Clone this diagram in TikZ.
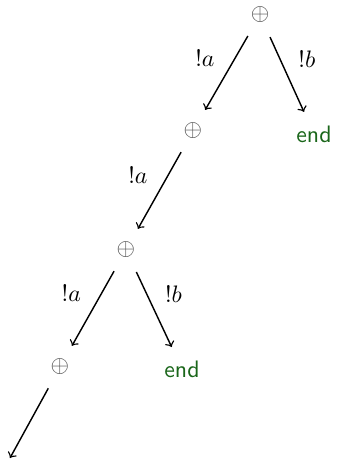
\documentclass[tikz,border=0pt]{standalone}
\usepackage{amsmath}
\definecolor{ink}{HTML}{000000}
\definecolor{muted}{HTML}{4D4D4D}
\definecolor{endgreen}{HTML}{1A661A}
\tikzset{
  every picture/.style = {line join=round},
  choice/.style        = {circle, inner sep=0pt, minimum size=20pt, text=muted},
  stop/.style          = {circle, inner sep=0pt, minimum size=20pt, text=endgreen, font=\sffamily},
  move/.style          = {->, semithick, ink},
  lbl/.style           = {text=ink},
}

\begin{document}
\begin{tikzpicture}[x=0.42pt, y=-0.42pt]
  \useasboundingbox (0,0) rectangle (336,462);

  % the choices, one level down each time
  \node[choice] (c1) at (260,15)  {$\oplus$};
  \node[choice] (c2) at (193,131) {$\oplus$};
  \node[choice] (c3) at (126,250) {$\oplus$};
  \node[choice] (c4) at (60,367)  {$\oplus$};
  \node[stop]   (e1) at (314,134) {end};
  \node[stop]   (e2) at (182,369) {end};
  \coordinate   (tail) at (10,458);   % the branch runs on past the frame

  \draw[move] (c1) -- node[lbl, left=5pt, pos=.3]  {$!a$} (c2);
  \draw[move] (c1) -- node[lbl, right=4pt, pos=.3] {$!b$} (e1);
  \draw[move] (c2) -- node[lbl, left=5pt, pos=.3]  {$!a$} (c3);
  \draw[move] (c3) -- node[lbl, left=5pt, pos=.3]  {$!a$} (c4);
  \draw[move] (c3) -- node[lbl, right=4pt, pos=.3] {$!b$} (e2);
  \draw[move] (c4) -- (tail);
\end{tikzpicture}
\end{document}
